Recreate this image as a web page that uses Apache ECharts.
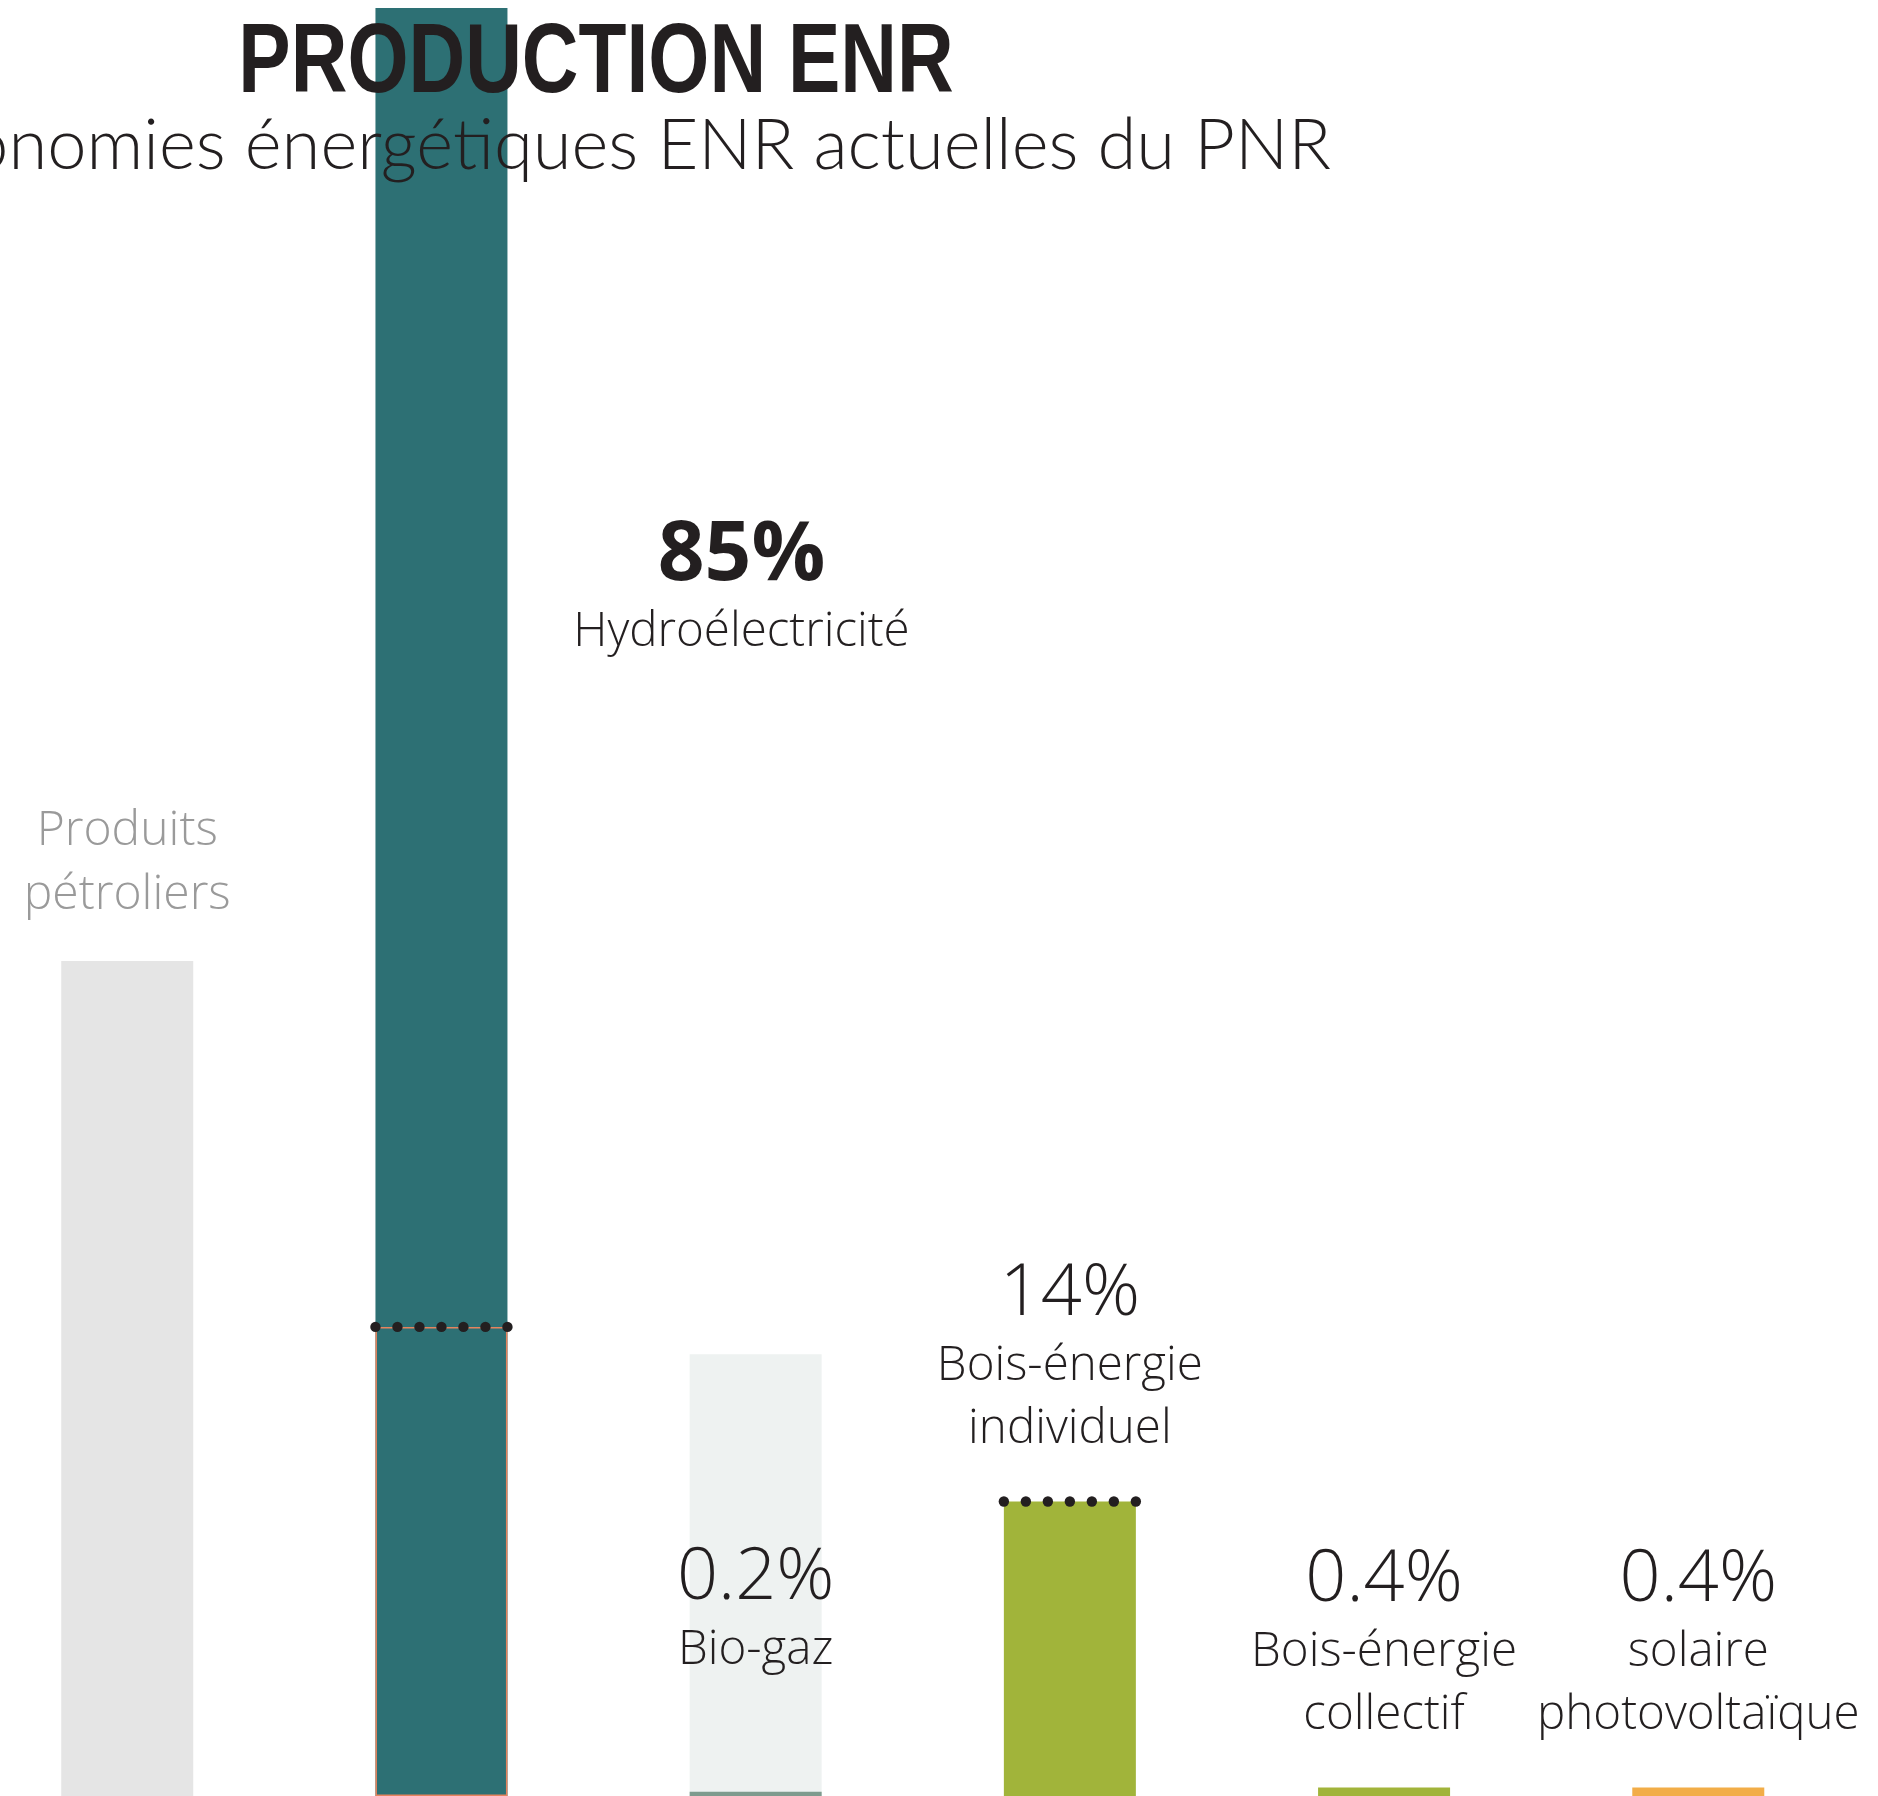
<!DOCTYPE html>
<html>
<head>
<meta charset="utf-8">
<title>Production ENR</title>
<script src="https://cdn.jsdelivr.net/npm/echarts@6/dist/echarts.min.js"></script>
<style>
  html, body { margin: 0; padding: 0; background: #ffffff; }
  #chart { width: 1878px; height: 1796px; }
</style>
</head>
<body>
<div id="chart"></div>
<script>
// Catégories de production et leurs libellés (une entrée par ligne affichée)
const categories = ['Produits pétroliers', 'Hydroélectricité', 'Bio-gaz',
  'Bois-énergie individuel', 'Bois-énergie collectif', 'solaire photovoltaïque'];
const nameLines = [
  ['Produits', 'pétroliers'],
  ['Hydroélectricité'],
  ['Bio-gaz'],
  ['Bois-énergie', 'individuel'],
  ['Bois-énergie', 'collectif'],
  ['solaire', 'photovoltaïque']
];

// Part de chaque filière dans la production ENR (%)
const shares = [null, 85, 0.2, 14, 0.4, 0.4];
// Barres de fond claires (niveau de référence)
const backdrop = [39.7, null, 21, null, null, null];
// Repères pointillés
const markers = [null, 22.3, null, 14, null, null];

const barColors = ['#E5E5E5', '#2D7074', '#7E9B8E', '#A1B43A', '#A1B43A', '#F2AD48'];
const backdropColors = ['#E5E5E5', null, '#EEF2F1', null, null, null];

const INK = '#231F20';
const BAR_W = 132;
const LIGHT = '"Open Sans", "Noto Sans", sans-serif';

const richStyles = {
  pct:  { fontFamily: LIGHT, fontWeight: 300, fontSize: 72, lineHeight: 80, color: INK, align: 'center' },
  pctB: { fontFamily: LIGHT, fontWeight: 'bold', fontSize: 82, lineHeight: 88, color: INK, align: 'center' },
  nm:   { fontFamily: LIGHT, fontWeight: 300, fontSize: 47.5, lineHeight: 63, color: INK, align: 'center' },
  gray: { fontFamily: LIGHT, fontWeight: 300, fontSize: 48, lineHeight: 64, color: '#9A9A9A', align: 'center' }
};

function pctText(v) { return v + '%'; }

const mainData = shares.map(function (v, i) {
  if (v === null) return null;
  const bold = v >= 50;
  const text = '{' + (bold ? 'pctB' : 'pct') + '|' + pctText(v) + '}\n' +
    nameLines[i].map(function (s) { return '{nm|' + s + '}'; }).join('\n');
  const label = { show: true, formatter: text, rich: richStyles, align: 'center' };
  if (bold) {
    label.position = [366, 505];
    label.verticalAlign = 'top';
  } else {
    label.position = 'top';
    label.distance = v < 0.3 ? 110 : 41;
  }
  return { value: [i, v], itemStyle: { color: barColors[i] }, label: label };
}).filter(Boolean);

const backdropData = backdrop.map(function (v, i) {
  if (v === null) return null;
  const item = { value: [i, v], itemStyle: { color: backdropColors[i] } };
  if (shares[i] === null) {
    item.label = {
      show: true, position: 'top', distance: 34, align: 'center', rich: richStyles,
      formatter: nameLines[i].map(function (s) { return '{gray|' + s + '}'; }).join('\n')
    };
  }
  return item;
}).filter(Boolean);

// Contour du repère sur la barre hydroélectrique
const outlineData = [[1, markers[1]]];
const markerData = markers
  .map(function (v, i) { return v === null ? null : [i, v]; })
  .filter(function (d) { return d !== null; });

const chart = echarts.init(document.getElementById('chart'), null, { renderer: 'canvas' });

chart.setOption({
  backgroundColor: '#ffffff',
  animation: false,
  title: {
    text: 'Autonomies énergétiques ENR actuelles du PNR',
    right: 542, top: 106,
    textStyle: { fontFamily: 'Lato, "Open Sans", sans-serif', fontWeight: 300, fontSize: 70.5, color: INK }
  },
  graphic: [{
    type: 'text', x: 596, y: 15, scaleX: 0.793, z: 100,
    style: {
      text: 'PRODUCTION ENR', textAlign: 'center', textVerticalAlign: 'top',
      font: 'bold 99px "Liberation Sans", Arial, sans-serif', fill: INK
    }
  }],
  grid: { left: 0, right: 0, top: 8, bottom: 0, containLabel: false },
  xAxis: { type: 'value', min: -0.405, max: 5.572, show: false },
  yAxis: { type: 'value', min: 0, max: 85, show: false },
  series: [
    { name: 'fond', type: 'bar', data: backdropData, barWidth: BAR_W, barGap: '-100%', z: 1 },
    { name: 'part', type: 'bar', data: mainData, barWidth: BAR_W, barGap: '-100%', z: 2 },
    {
      name: 'repère', type: 'bar', data: outlineData, barWidth: BAR_W, barGap: '-100%', z: 3,
      itemStyle: { color: 'rgba(0,0,0,0)', borderColor: '#E5845E', borderWidth: 1.5 }, silent: true
    },
    {
      name: 'pointillés', type: 'custom', data: markerData, z: 4,
      renderItem: function (params, api) {
        const c = api.coord([api.value(0), api.value(1)]);
        const n = 7, children = [];
        for (let k = 0; k < n; k++) {
          children.push({
            type: 'circle',
            shape: { cx: c[0] - BAR_W / 2 + k * BAR_W / (n - 1), cy: c[1], r: 5.2 },
            style: { fill: INK }
          });
        }
        return { type: 'group', children: children };
      }
    }
  ]
});
</script>
</body>
</html>
